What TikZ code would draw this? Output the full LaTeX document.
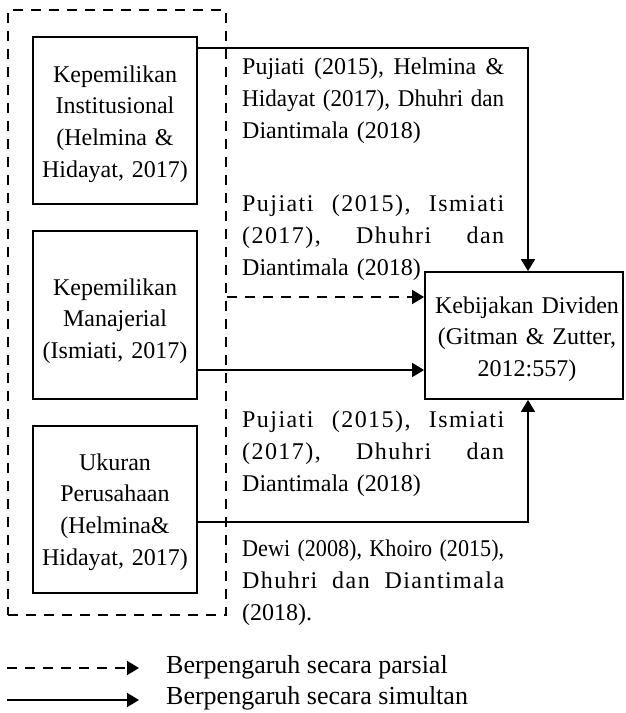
\documentclass[tikz,border=0pt]{standalone}
\usepackage{fontspec}
\setmainfont{Liberation Serif}
\usepackage{graphicx}
\usetikzlibrary{arrows.meta}
\newcommand{\jl}[1]{\leavevmode\hbox to 262pt{#1}}
\newcommand{\jls}[1]{\leavevmode\hbox to 262pt{\addfontfeatures{LetterSpace=6}#1}}
\newcommand{\rl}[1]{\leavevmode\resizebox{262pt}{\height}{#1}}
\begin{document}
\begin{tikzpicture}[x=1pt,y=-1pt,
  every node/.style={font=\fontsize{24}{32}\selectfont},
  boxstyle/.style={draw, line width=1.8pt, rectangle, inner sep=0pt},
  grpstyle/.style={draw, line width=1.8pt, dash pattern=on 10pt off 8pt, inner sep=0pt},
  txt/.style={inner sep=0pt, anchor=base, align=center, font=\fontsize{24}{31.7}\selectfont},
  para/.style={inner sep=0pt, anchor=base west, text width=262pt, align=left},
  conn/.style={line width=1.8pt, -{Triangle[length=12pt,width=14pt]}},
  dconn/.style={conn, dash pattern=on 10pt off 8pt},
]
\useasboundingbox (0,0) rectangle (625,713);

% boxes
\node[grpstyle, minimum width=218pt, minimum height=605pt] (grp) at (117,312.5) {};
\node[boxstyle, minimum width=164pt, minimum height=167pt] (inst) at (115,120.5) {};
\node[boxstyle, minimum width=164pt, minimum height=168pt] (mgr) at (115,315) {};
\node[boxstyle, minimum width=164pt, minimum height=167pt] (uk) at (115,509.5) {};
\node[boxstyle, minimum width=198pt, minimum height=127pt] (kd) at (524,335.5) {};

% box texts
\node[txt, text width=160pt] (instT) at (115,82) {Kepemilikan\\Institusional\\(Helmina \&\\Hidayat, 2017)};
\node[txt, text width=160pt] (mgrT) at (115,295) {Kepemilikan\\Manajerial\\(Ismiati, 2017)};
\node[txt, text width=160pt] (ukT) at (115,470) {Ukuran\\Perusahaan\\(Helmina\&\\Hidayat, 2017)};
\node[txt, text width=200pt, font=\fontsize{24}{31.5}\selectfont] (kdT) at (527,313) {Kebijakan Dividen\\(Gitman \& Zutter,\\2012:557)};

% paragraphs
\node[para] (p1) at (242,74) {\jl{Pujiati \hfill(2015), \hfill Helmina \hfill\&}\\\rl{Hidayat (2017), Dhuhri dan}\\Diantimala (2018)};
\node[para] (p2) at (242,211) {\jls{Pujiati \hfill(2015), \hfill Ismiati}\\\jls{(2017), \hfill Dhuhri \hfill dan}\\Diantimala (2018)};
\node[para] (p3) at (242,427) {\jls{Pujiati \hfill(2015), \hfill Ismiati}\\\jls{(2017), \hfill Dhuhri \hfill dan}\\Diantimala (2018)};
\node[para] (p4) at (242,556) {\rl{Dewi (2008), Khoiro (2015),}\\\jls{Dhuhri \hfill dan \hfill Diantimala}\\(2018).};

% connectors
\coordinate (xa) at (528,0);
\coordinate (yi) at (0,48);
\coordinate (yd) at (0,297);
\coordinate (ym) at (0,370);
\coordinate (yu) at (0,522);
\draw[conn] (inst.east |- yi) -| (xa |- kd.north);
\draw[dconn] (grp.east |- yd) -- (kd.west |- yd);
\draw[conn] (mgr.east |- ym) -- (kd.west |- ym);
\draw[conn] (uk.east |- yu) -| (xa |- kd.south);

% legend
\coordinate (la) at (7,668);
\coordinate (lb) at (139,668);
\coordinate (lc) at (7,700);
\coordinate (ld) at (139,700);
\draw[dconn] (la) -- (lb);
\draw[conn] (lc) -- (ld);
\node[inner sep=0pt, anchor=base west, font=\fontsize{26}{32}\selectfont] (lt1) at (166,673) {Berpengaruh secara parsial};
\node[inner sep=0pt, anchor=base west, font=\fontsize{26}{32}\selectfont] (lt2) at (166,704) {Berpengaruh secara simultan};
\end{tikzpicture}
\end{document}
